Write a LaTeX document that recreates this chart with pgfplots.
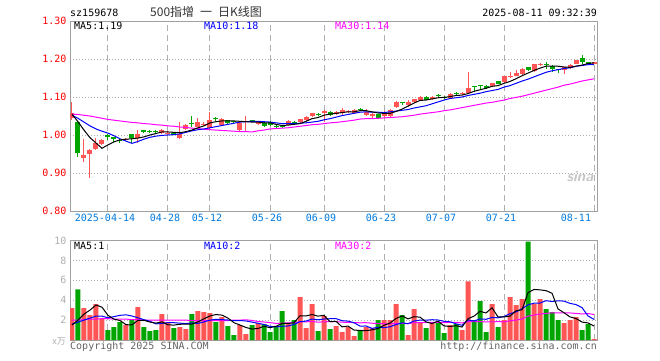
\documentclass[border=0pt]{standalone}
\usepackage{fontspec}
\setmonofont{DejaVu Sans Mono}
\newfontfamily\cjk{Noto Sans CJK SC}
\usepackage{pgfplots}
\usepackage{pgfplotstable}
\pgfplotsset{compat=1.18}
\definecolor{cred}{RGB}{255,85,85}
\definecolor{cgreen}{RGB}{0,165,0}
\definecolor{tblue}{RGB}{0,122,222}
\definecolor{gridc}{RGB}{175,175,175}
\definecolor{framec}{RGB}{160,160,160}
\definecolor{mag}{RGB}{255,0,255}
\definecolor{mblue}{RGB}{0,0,255}
\definecolor{txtgray}{RGB}{100,100,100}

\pgfplotstableread{
i O H L C V m5 m10 m30 v5 v10 v30
0 1.044 1.088 1.040 1.057 3.2 1.055 1.052 1.055 1.5 1.6 2.0
1 1.035 1.036 0.943 0.952 5.1 1.035 1.044 1.054 2.0 1.8 2.0
2 0.939 0.990 0.930 0.947 3.2 1.013 1.034 1.052 2.6 2.0 2.05
3 0.949 0.962 0.888 0.961 2.5 0.993 1.024 1.050 3.0 2.2 2.1
4 0.963 0.991 0.960 0.978 3.6 0.979 1.016 1.047 3.52 2.4 2.1
5 0.976 0.990 0.974 0.987 2.1 0.965 1.010 1.044 3.30 2.40 2.15
6 0.998 1.002 0.987 0.996 1.0 0.974 1.005 1.041 2.48 2.24 2.15
7 0.994 0.996 0.982 0.990 1.3 0.982 0.998 1.039 2.10 2.35 2.1
8 0.988 0.990 0.978 0.984 1.8 0.987 0.990 1.037 1.96 2.48 2.1
9 0.986 0.992 0.984 0.990 1.5 0.989 0.984 1.035 1.54 2.53 2.1
10 1.002 1.003 0.978 0.992 2.0 0.990 0.978 1.033 1.52 2.41 2.05
11 0.992 1.013 0.978 1.002 3.3 0.992 0.983 1.032 1.98 2.23 2.05
12 1.011 1.013 1.004 1.009 1.3 0.995 0.989 1.030 1.98 2.04 2.0
13 1.010 1.012 1.005 1.008 0.9 1.000 0.994 1.029 1.80 1.88 2.0
14 1.010 1.012 1.004 1.007 1.0 1.004 0.997 1.027 1.70 1.62 2.0
15 1.004 1.016 1.003 1.012 2.6 1.008 0.999 1.026 1.82 1.67 2.0
16 1.003 1.010 1.000 1.006 1.8 1.008 1.000 1.024 1.52 1.75 2.0
17 1.006 1.008 0.999 1.001 1.2 1.007 1.001 1.023 1.50 1.74 2.0
18 0.993 1.035 0.990 1.003 1.3 1.006 1.003 1.021 1.58 1.69 2.0
19 1.016 1.028 1.014 1.026 1.1 1.009 1.007 1.020 1.60 1.65 2.0
20 1.031 1.050 1.020 1.028 2.6 1.013 1.011 1.018 1.60 1.71 1.95
21 1.022 1.044 1.020 1.035 2.9 1.019 1.014 1.017 1.82 1.67 1.95
22 1.026 1.033 1.024 1.030 2.8 1.024 1.016 1.015 2.14 1.82 1.95
23 1.018 1.061 1.015 1.039 2.7 1.032 1.019 1.014 2.42 2.00 1.95
24 1.043 1.048 1.036 1.041 1.8 1.035 1.022 1.013 2.56 2.08 1.95
25 1.026 1.046 1.024 1.041 2.3 1.037 1.025 1.012 2.50 2.05 1.95
26 1.039 1.040 1.030 1.032 1.4 1.037 1.028 1.011 2.20 2.01 1.95
27 1.036 1.037 1.030 1.034 0.5 1.037 1.031 1.010 1.74 1.94 2.0
28 1.014 1.035 1.011 1.031 1.5 1.036 1.034 1.009 1.50 1.96 2.0
29 1.033 1.050 1.010 1.037 0.6 1.035 1.035 1.009 1.26 1.91 2.03
30 1.038 1.040 1.033 1.036 1.5 1.034 1.036 1.008 1.10 1.80 1.97
31 1.029 1.035 1.027 1.033 1.7 1.034 1.036 1.011 1.16 1.68 1.86
32 1.032 1.034 1.022 1.025 1.6 1.032 1.035 1.013 1.38 1.56 1.81
33 1.035 1.036 1.025 1.027 0.8 1.032 1.034 1.016 1.24 1.37 1.75
34 1.024 1.027 1.016 1.021 1.3 1.028 1.032 1.017 1.38 1.32 1.67
35 1.025 1.027 1.019 1.021 2.9 1.025 1.030 1.018 1.66 1.38 1.70
36 1.027 1.039 1.026 1.037 1.7 1.026 1.030 1.019 1.66 1.41 1.72
37 1.034 1.036 1.028 1.032 2.0 1.028 1.030 1.021 1.74 1.56 1.75
38 1.033 1.043 1.032 1.041 4.3 1.030 1.031 1.023 2.44 1.84 1.83
39 1.039 1.050 1.037 1.048 1.2 1.036 1.032 1.025 2.42 1.90 1.82
40 1.049 1.058 1.048 1.057 3.6 1.043 1.034 1.027 2.56 2.11 1.87
41 1.055 1.057 1.050 1.053 0.9 1.046 1.036 1.028 2.40 2.03 1.79
42 1.057 1.065 1.035 1.062 2.4 1.052 1.040 1.030 2.48 2.11 1.83
43 1.060 1.062 1.050 1.053 1.1 1.055 1.043 1.032 1.84 2.14 1.84
44 1.054 1.063 1.052 1.061 1.4 1.057 1.047 1.033 1.88 2.15 1.85
45 1.057 1.070 1.050 1.066 0.8 1.059 1.051 1.035 1.32 1.94 1.79
46 1.060 1.066 1.057 1.062 1.3 1.061 1.054 1.037 1.40 1.90 1.77
47 1.059 1.068 1.057 1.065 0.4 1.061 1.057 1.039 1.00 1.74 1.75
48 1.067 1.070 1.062 1.065 0.9 1.064 1.060 1.042 0.96 1.40 1.73
49 1.052 1.068 1.051 1.060 1.3 1.064 1.061 1.043 0.94 1.41 1.74
50 1.051 1.058 1.046 1.054 1.2 1.061 1.060 1.043 1.02 1.17 1.69
51 1.054 1.056 1.043 1.046 2.0 1.058 1.060 1.044 1.16 1.28 1.66
52 1.050 1.062 1.045 1.058 2.0 1.057 1.059 1.045 1.48 1.24 1.64
53 1.049 1.068 1.046 1.066 2.0 1.057 1.061 1.046 1.70 1.33 1.61
54 1.074 1.090 1.070 1.088 3.6 1.062 1.063 1.047 2.16 1.55 1.67
55 1.085 1.088 1.080 1.083 2.5 1.068 1.065 1.048 2.42 1.72 1.68
56 1.079 1.092 1.075 1.087 0.5 1.076 1.067 1.050 2.12 1.64 1.65
57 1.086 1.096 1.084 1.094 3.1 1.084 1.071 1.052 2.34 1.91 1.74
58 1.093 1.102 1.091 1.101 1.8 1.091 1.074 1.055 2.30 2.00 1.75
59 1.101 1.102 1.091 1.093 1.2 1.092 1.077 1.057 1.82 1.99 1.77
60 1.094 1.103 1.092 1.101 1.7 1.095 1.082 1.059 1.66 2.04 1.77
61 1.105 1.108 1.100 1.103 1.7 1.098 1.087 1.061 1.90 2.01 1.77
62 1.100 1.102 1.095 1.098 0.7 1.099 1.092 1.064 1.42 1.88 1.74
63 1.098 1.110 1.096 1.108 1.5 1.101 1.096 1.066 1.36 1.83 1.77
64 1.110 1.113 1.104 1.108 1.6 1.104 1.098 1.069 1.44 1.63 1.78
65 1.108 1.113 1.106 1.110 1.0 1.105 1.100 1.072 1.30 1.48 1.71
66 1.111 1.167 1.109 1.123 5.9 1.109 1.104 1.075 2.14 2.02 1.85
67 1.129 1.130 1.112 1.127 2.0 1.115 1.107 1.078 2.40 1.91 1.85
68 1.131 1.132 1.118 1.129 3.9 1.119 1.110 1.081 2.88 2.12 1.84
69 1.130 1.132 1.120 1.124 0.8 1.123 1.114 1.084 2.72 2.08 1.83
70 1.128 1.138 1.126 1.136 3.6 1.128 1.117 1.086 3.24 2.27 1.83
71 1.142 1.143 1.133 1.135 1.3 1.130 1.120 1.089 2.32 2.23 1.84
72 1.140 1.156 1.138 1.154 2.0 1.136 1.126 1.092 2.32 2.36 1.83
73 1.153 1.167 1.151 1.155 4.3 1.141 1.130 1.096 2.40 2.64 1.93
74 1.156 1.171 1.154 1.162 3.5 1.148 1.136 1.099 2.94 2.83 2.00
75 1.160 1.176 1.158 1.174 4.1 1.156 1.142 1.102 3.04 3.14 2.11
76 1.178 1.180 1.168 1.170 9.9 1.163 1.147 1.106 4.76 3.54 2.40
77 1.169 1.188 1.167 1.187 3.6 1.170 1.153 1.110 5.08 3.70 2.51
78 1.184 1.190 1.182 1.188 4.1 1.176 1.159 1.114 5.04 3.72 2.61
79 1.186 1.193 1.175 1.184 3.1 1.181 1.165 1.118 4.96 3.95 2.67
80 1.182 1.184 1.167 1.175 2.8 1.181 1.169 1.122 4.70 3.87 2.73
81 1.172 1.174 1.162 1.170 2.0 1.181 1.172 1.126 3.12 3.94 2.73
82 1.171 1.179 1.160 1.178 1.7 1.179 1.175 1.131 2.74 3.91 2.72
83 1.176 1.186 1.175 1.184 2.0 1.178 1.177 1.134 2.32 3.68 2.72
84 1.188 1.198 1.186 1.197 2.3 1.181 1.181 1.138 2.16 3.56 2.67
85 1.203 1.211 1.188 1.193 1.0 1.184 1.183 1.142 1.80 3.25 2.62
86 1.190 1.192 1.185 1.188 1.6 1.188 1.185 1.145 1.72 2.42 2.66
87 1.188 1.191 1.187 1.190 0.1 1.190 1.185 1.148 1.40 2.07 2.56
}\data

\pgfplotsset{
  kbase/.style={
    scale only axis, anchor=south west, width=527.5pt,
    xmin=-0.33, xmax=87.58,
    axis line style={draw=framec, line width=1pt},
    xtick={6,16,23,33,42,52,62,72,87},
    xmajorgrids, ymajorgrids,
    major x grid style={draw=gridc, line width=1pt, dash pattern=on 6pt off 4pt},
    major y grid style={draw=gridc, line width=1pt, dash pattern=on 1pt off 2pt},
    major tick length=0pt,
    tick style={draw=none},
    clip=true,
  },
  redf/.style={x filter/.expression={\thisrow{C}>=\thisrow{O} ? x : nan}},
  greenf/.style={x filter/.expression={\thisrow{C}<\thisrow{O} ? x : nan}},
  wick/.style={draw=none, mark=none, forget plot,
    error bars/.cd, y dir=plus, y explicit, error mark=none,
    error bar style={draw=#1, line width=1pt, solid}},
  body/.style={draw=none, mark=none, forget plot,
    error bars/.cd, y dir=plus, y explicit, error mark=none,
    error bar style={draw=#1, line width=5pt, solid}},
}

\begin{document}
\begin{tikzpicture}
\useasboundingbox (0pt,0pt) rectangle (660pt,360pt);

% ---------- price panel ----------
\begin{axis}[kbase,
  at={(70pt,149pt)}, height=190pt,
  ymin=0.80, ymax=1.30,
  ytick={0.8,0.9,1.0,1.1,1.2,1.3},
  yticklabels={0.80,0.90,1.00,1.10,1.20,1.30},
  xticklabels={2025-04-14,04-28,05-12,05-26,06-09,06-23,07-07,07-21,\makebox[0pt][r]{08-11}},
  y tick label style={font=\ttfamily\fontsize{10}{12}\selectfont, text=red},
  x tick label style={font=\ttfamily\fontsize{10}{12}\selectfont, text=tblue, xshift=-3pt},
]
\addplot[redf, wick=cred] table[x=i, y=L, y error expr=\thisrow{H}-\thisrow{L}] {\data};
\addplot[greenf, wick=cgreen] table[x=i, y=L, y error expr=\thisrow{H}-\thisrow{L}] {\data};
\addplot[redf, body=cred] table[x=i, y=O, y error expr={max(\thisrow{C}-\thisrow{O},0.003)}] {\data};
\addplot[greenf, body=cgreen] table[x=i, y=C, y error expr={max(\thisrow{O}-\thisrow{C},0.003)}] {\data};
\addplot[mag, line width=1pt, mark=none] table[x=i, y=m30] {\data};
\addplot[mblue, line width=1pt, mark=none] table[x=i, y=m10] {\data};
\addplot[black, line width=1pt, mark=none] table[x=i, y=m5] {\data};
\end{axis}

% ---------- volume panel ----------
\begin{axis}[kbase,
  at={(70pt,20pt)}, height=99.5pt,
  ymin=0, ymax=10,
  ytick={2,4,6,8,10},
  yticklabels={2,4,6,8,10},
  xticklabels={},
  y tick label style={font=\ttfamily\fontsize{10}{12}\selectfont, text=gridc},
]
\addplot[redf, ybar, bar width=5pt, bar shift=0pt, fill=cred, draw=none] table[x=i, y=V] {\data};
\addplot[greenf, ybar, bar width=5pt, bar shift=0pt, fill=cgreen, draw=none] table[x=i, y=V] {\data};
\addplot[mag, line width=1pt, mark=none] table[x=i, y=v30] {\data};
\addplot[mblue, line width=1pt, mark=none] table[x=i, y=v10] {\data};
\addplot[black, line width=1pt, mark=none] table[x=i, y=v5] {\data};
\end{axis}

% ---------- texts ----------
\begin{scope}[every node/.style={inner sep=0pt, font=\ttfamily\fontsize{10}{12}\selectfont}]
\node[anchor=base west] at (70pt,343.5pt) {sz159678};
\node[anchor=base west, font=\cjk\fontsize{12}{14}\selectfont, text=black!80] at (150pt,343.5pt) {500指增\hspace{0.5em}一\hspace{0.5em}日K线图};
\node[anchor=base east] at (597pt,343.5pt) {2025-08-11 09:32:39};
\node[anchor=base west] at (74pt,330.5pt) {MA5:1.19};
\node[anchor=base west, text=mblue] at (204pt,330.5pt) {MA10:1.18};
\node[anchor=base west, text=mag] at (335pt,330.5pt) {MA30:1.14};
\node[anchor=base west] at (74pt,110.5pt) {MA5:1};
\node[anchor=base west, text=mblue] at (204pt,110.5pt) {MA10:2};
\node[anchor=base west, text=mag] at (335pt,110.5pt) {MA30:2};
\node[anchor=base west, text=txtgray] at (70pt,10.5pt) {Copyright 2025 SINA.COM};
\node[anchor=base east, text=txtgray] at (597pt,10.5pt) {http://finance.sina.com.cn};
\node[anchor=base east, text=gridc, font=\cjk\fontsize{9}{10}\selectfont] at (66pt,16pt) {x万};
\node[text=gray!45, font=\sffamily\bfseries\itshape\fontsize{15}{15}\selectfont] at (580pt,183pt) {sina};
\end{scope}
\end{tikzpicture}
\end{document}
